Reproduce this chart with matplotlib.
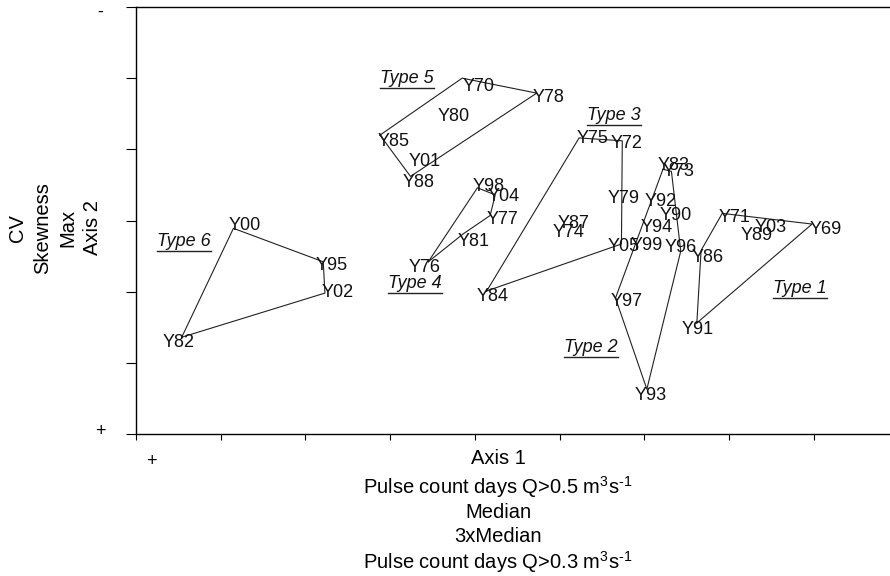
import matplotlib
matplotlib.use("Agg")
import matplotlib.pyplot as plt
from matplotlib.transforms import offset_copy

plt.rcParams['font.family'] = 'Liberation Sans'
plt.rcParams['mathtext.fontset'] = 'custom'
plt.rcParams['mathtext.rm'] = 'Liberation Sans'
plt.rcParams['mathtext.it'] = 'Liberation Sans:italic'

# ordination scores (axis 1, axis 2) for each year
years = ['Y00', 'Y95', 'Y02', 'Y82',
         'Y85', 'Y70', 'Y78', 'Y88', 'Y80', 'Y01',
         'Y76', 'Y98', 'Y04', 'Y77', 'Y81',
         'Y84', 'Y75', 'Y72', 'Y05', 'Y79', 'Y87', 'Y74',
         'Y83', 'Y73', 'Y96', 'Y93', 'Y97', 'Y99', 'Y92', 'Y90', 'Y94',
         'Y71', 'Y69', 'Y91', 'Y86', 'Y03', 'Y89']
axis1 = [1.15, 2.21, 2.23, 0.54,
         2.88, 3.85, 4.73, 3.24, 3.66, 3.31,
         3.45, 4.03, 4.24, 4.18, 3.86,
         4.14, 5.23, 5.74, 5.73, 5.66, 5.07, 5.01,
         6.22, 6.32, 6.43, 6.03, 5.66, 5.93, 6.10, 6.28, 6.05,
         6.92, 7.98, 6.62, 6.67, 7.40, 7.23]
axis2 = [2.89, 2.42, 1.98, 1.36,
         4.20, 5.00, 4.79, 3.62, 4.52, 3.89,
         2.42, 3.46, 3.36, 3.07, 2.81,
         2.01, 4.16, 4.12, 2.67, 3.36, 3.02, 2.89,
         3.72, 3.69, 2.57, 0.63, 1.91, 2.70, 3.32, 3.13, 2.96,
         3.10, 2.95, 1.56, 2.58, 2.96, 2.85]

# hull outlines of the six year types
hulls = {
    'Type 6': ['Y82', 'Y00', 'Y95', 'Y02'],
    'Type 5': ['Y85', 'Y70', 'Y78', 'Y88'],
    'Type 4': ['Y76', 'Y98', 'Y04', 'Y77', 'Y81'],
    'Type 3': ['Y84', 'Y75', 'Y72', 'Y05'],
    'Type 2': ['Y83', 'Y97', 'Y93', 'Y96', 'Y73'],
    'Type 1': ['Y91', 'Y86', 'Y71', 'Y69'],
}
type_names = ['Type 6', 'Type 5', 'Type 4', 'Type 3', 'Type 2', 'Type 1']
type_x = [0.57, 3.20, 3.29, 5.64, 5.37, 7.84]
type_y = [2.70, 4.99, 2.12, 4.47, 1.22, 2.04]

# label nudges in pixels (right, down) from the point
nudge = {
    'Y00': (-5, -3), 'Y95': (-8, 4), 'Y02': (-3, -1), 'Y82': (-19, 5),
    'Y85': (-2, 6), 'Y70': (0, 8), 'Y78': (-4, 4), 'Y88': (-8, 6),
    'Y76': (-20, 6), 'Y98': (-5, -1), 'Y04': (-8, 2), 'Y77': (-3, 4),
    'Y81': (-5, 7), 'Y84': (-10, 6), 'Y75': (-2, 1), 'Y72': (-12, 3),
    'Y05': (-14, 3), 'Y83': (-5, -4), 'Y73': (-9, 0), 'Y96': (-16, -4),
    'Y93': (-12, 6), 'Y97': (-5, 3), 'Y71': (-4, 4), 'Y69': (-2, 5),
    'Y91': (-15, 7), 'Y86': (-9, 7),
}

fs = 13
fs_title = 14.5

fig = plt.figure(figsize=(8.9, 5.76), dpi=100)
ax = fig.add_axes([136 / 890, 142 / 576, 754 / 890, 427 / 576])
ax.set_xlim(0, 8.9)
ax.set_ylim(0, 6)

pos = {y: (a, b) for y, a, b in zip(years, axis1, axis2)}

for name, members in hulls.items():
    xs = [pos[m][0] for m in members] + [pos[members[0]][0]]
    ys = [pos[m][1] for m in members] + [pos[members[0]][1]]
    ax.plot(xs, ys, color='#222222', lw=0.8)

for y, a, b in zip(years, axis1, axis2):
    dx, dy = nudge.get(y, (-8, 4))
    tr = offset_copy(ax.transData, fig=fig, x=dx, y=-dy, units='dots')
    ax.text(a, b, y, transform=tr, ha='left', va='center',
            fontsize=fs, color='#111111')

# italic type names, underlined
type_texts = []
for name, tx, ty in zip(type_names, type_x, type_y):
    t = ax.text(tx, ty, name, ha='center', va='center', fontsize=fs,
                style='italic', color='#111111')
    type_texts.append(t)
fig.canvas.draw()
inv = ax.transData.inverted()
for t in type_texts:
    bb = t.get_window_extent()
    (x0, y0), (x1, _) = inv.transform([(bb.x0, bb.y0 - 1), (bb.x1, bb.y0)])
    ax.plot([x0, x1], [y0, y0], color='#222222', lw=1.0)

ax.spines['right'].set_visible(False)
for s in ['left', 'bottom', 'top']:
    ax.spines[s].set_linewidth(1.0)
ax.set_xticks(range(0, 9))
ax.set_yticks(range(0, 7))
ax.set_xticklabels([])
ax.set_yticklabels([])
ax.tick_params(axis='x', direction='out', length=4.5, width=0.8)
ax.tick_params(axis='y', direction='out', length=7, width=0.8)

# axis end signs
fig.text(100 / 890, 1 - 12 / 576, '-', ha='center', va='center', fontsize=fs)
fig.text(100 / 890, 1 - 432 / 576, '+', ha='center', va='center', fontsize=fs)
fig.text(151 / 890, 1 - 461 / 576, '+', ha='center', va='center', fontsize=fs)

# stacked axis titles
xlines = ['Axis 1',
          'Pulse count days Q>0.5 m$^{3}$s$^{\u20101}$',
          'Median',
          '3xMedian',
          'Pulse count days Q>0.3 m$^{3}$s$^{\u20101}$']
xline_y = [459, 487, 512, 537, 562]
for txt, py in zip(xlines, xline_y):
    fig.text(498 / 890, 1 - py / 576, txt, ha='center', va='center',
             fontsize=fs_title)

ylines = ['CV', 'Skewness', 'Max', 'Axis 2']
yline_x = [17, 43, 68, 93]
for txt, px in zip(ylines, yline_x):
    fig.text(px / 890, 1 - 228 / 576, txt, ha='center', va='center',
             fontsize=fs_title, rotation=90)

fig.savefig('out.png', dpi=100)
